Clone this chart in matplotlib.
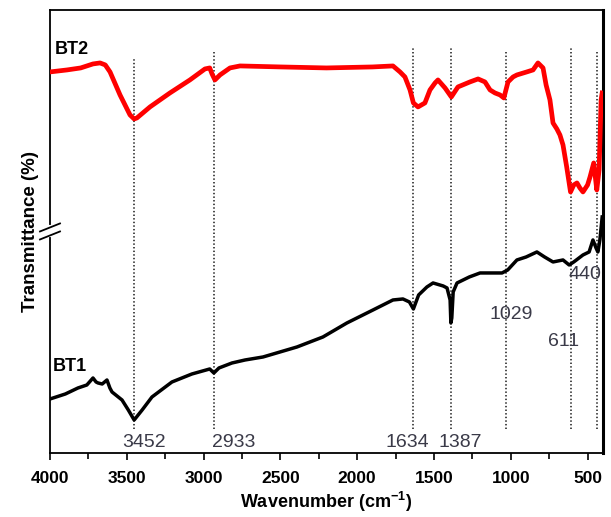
import numpy as np
import matplotlib
matplotlib.use("Agg")
import matplotlib.pyplot as plt
from matplotlib.ticker import MultipleLocator

plt.rcParams['font.family'] = ['Liberation Sans', 'DejaVu Sans']
plt.rcParams['mathtext.fontset'] = 'custom'
plt.rcParams['mathtext.rm'] = 'Liberation Sans'
plt.rcParams['mathtext.bf'] = 'Liberation Sans:bold'

# BT2 (red, upper trace) - wavenumber / arbitrary transmittance
bt2_wn = [4000, 3889, 3800, 3720, 3674, 3640, 3609, 3544, 3479, 3452, 3434, 3349,
          3219, 3089, 2991, 2960, 2945, 2926, 2893, 2828, 2763, 2500, 2200, 1900,
          1767, 1721, 1689, 1656, 1634, 1604, 1559, 1526, 1493, 1474, 1428, 1387,
          1344, 1266, 1213, 1168, 1135, 1103, 1070, 1045, 1018, 985, 960, 896,
          855, 823, 790, 770, 745, 725, 700, 680, 660, 636, 611, 590, 569, 550,
          530, 500, 484, 460, 440, 425, 412, 405]
bt2_t = [381, 383, 385, 389, 390, 388, 381, 358, 338, 334, 335, 346,
         360, 373, 384, 385, 379, 373, 378, 385, 387, 386, 385, 386,
         387, 381, 376, 363, 350, 346, 350, 363, 370, 373, 365, 356,
         366, 371, 374, 371, 363, 360, 358, 355, 371, 376, 378, 381,
         383, 390, 385, 368, 353, 330, 324, 318, 308, 286, 261, 268, 270, 265,
         261, 268, 276, 290, 263, 283, 353, 360]

# BT1 (black, lower trace)
bt1_wn = [4000, 3900, 3818, 3760, 3720, 3700, 3687, 3660, 3629, 3610, 3596, 3531,
          3490, 3452, 3400, 3336, 3206, 3076, 2960, 2933, 2900, 2815, 2730, 2613,
          2392, 2223, 2067, 1897, 1767, 1702, 1660, 1634, 1600, 1546, 1506, 1440,
          1415, 1395, 1390, 1384, 1375, 1350, 1270, 1200, 1100, 1057, 1020, 960,
          900, 830, 780, 725, 660, 620, 590, 530, 490, 465, 445, 433, 420, 410, 405]
bt1_t = [54, 59, 65, 68, 75, 71, 70, 69, 73, 65, 61, 53,
         43, 33, 43, 56, 71, 79, 84, 80, 85, 90, 93, 96,
         106, 116, 130, 143, 153, 154, 151, 144, 158, 166, 170, 167,
         165, 153, 130, 135, 161, 170, 176, 180, 180, 180, 183, 193,
         196, 201, 196, 191, 193, 188, 191, 198, 201, 213, 205, 201, 213, 228, 236]

# marked peaks: position, top of guide line, label x, label y
peaks = [3452, 2933, 1634, 1387, 1029, 611, 440]
peak_top = [395, 401, 405, 405, 403, 406, 403]
label_x = [3531, 2945, 1813, 1468, 1136, 758, 621]
label_y = [10, 10, 10, 10, 138, 111, 178]

fig = plt.figure(figsize=(6.11, 5.17), dpi=100)
ax = fig.add_axes([0.0818, 0.1238, 0.905, 0.857])

for p, top in zip(peaks, peak_top):
    ax.plot([p, p], [24, top], color='#3a3a3a', lw=1.3, linestyle=(0, (0.8, 1.2)), zorder=1)

ax.plot(bt2_wn, bt2_t, color='#ff0000', lw=3.4, solid_joinstyle='round', zorder=3)
ax.plot(bt1_wn, bt1_t, color='black', lw=2.5, solid_joinstyle='round', zorder=3)

for p, lx, ly in zip(peaks, label_x, label_y):
    ax.text(lx, ly, str(p), ha='left', va='center', fontsize=14, color='#3a3a48')

ax.text(3967, 403, 'BT2', fontsize=13, fontweight='bold', ha='left', va='center')
ax.text(3980, 86, 'BT1', fontsize=13, fontweight='bold', ha='left', va='center')

ax.set_xlim(4000, 400)
ax.set_ylim(0, 443)
ax.xaxis.set_major_locator(MultipleLocator(500))
ax.xaxis.set_minor_locator(MultipleLocator(250))
ax.set_yticks([])
ax.tick_params(axis='x', which='major', direction='out', length=5, width=1.2, pad=8)
ax.tick_params(axis='x', which='minor', direction='out', length=4, width=1.2)
for lab in ax.get_xticklabels():
    lab.set_fontweight('bold')
    lab.set_fontsize(12.5)

for side in ['left', 'bottom', 'top']:
    ax.spines[side].set_linewidth(1.3)
ax.spines['right'].set_linewidth(2.2)

ax.set_xlabel(r'Wavenumber (cm$^{\mathbf{-1}}$)', fontsize=13, fontweight='bold', labelpad=3)
ax.set_ylabel('Transmittance (%)', fontsize=13.5, fontweight='bold', labelpad=8)

# axis break on the left spine
ax.plot([0, 0], [0.5 - 4 / 443, 0.5 + 4 / 443], color='white', lw=3,
        transform=ax.transAxes, clip_on=False, zorder=5)
for dy in (-4, 4):
    ax.plot([-10 / 553, 10 / 553], [0.5 + (dy - 4) / 443, 0.5 + (dy + 4) / 443],
            color='black', lw=1.3, transform=ax.transAxes, clip_on=False, zorder=6)

fig.savefig('out.png', dpi=100)
